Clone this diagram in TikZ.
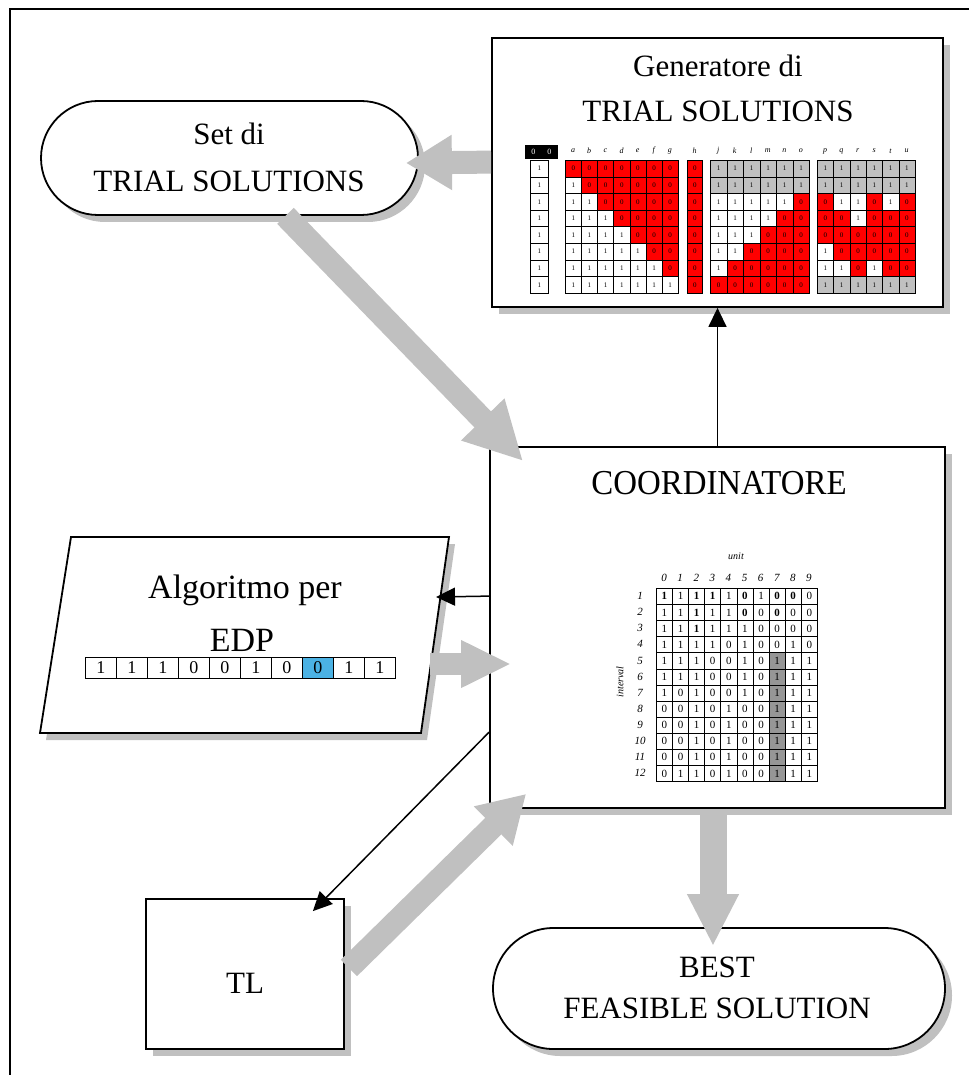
\documentclass[tikz,border=0pt]{standalone}
\usepackage{fontspec}
\setmainfont{Liberation Serif}
\usetikzlibrary{arrows.meta,shapes.misc,shadows,calc}
\definecolor{sgray}{RGB}{192,192,192}
\definecolor{cR}{RGB}{255,0,0}
\definecolor{cW}{RGB}{255,255,255}
\definecolor{cG}{RGB}{192,192,192}
\definecolor{cblue}{RGB}{75,178,228}
\definecolor{dgray}{RGB}{150,150,150}
\newcommand\uval[1]{\if#1b\textbf{1}\else\if#1z\textbf{0}\else#1\fi\fi}
\tikzset{
 box/.style={draw=black, line width=1.8pt, fill=white, inner sep=0pt,
   general shadow={fill=sgray, shadow xshift=7pt, shadow yshift=-7pt}},
 big/.style={font=\fontsize{31}{37}\selectfont, inner sep=0pt, anchor=base},
 fat/.style={draw=sgray, line width=23pt, -{Triangle[length=46pt,width=52pt]}},
 thinarr/.style={draw=black, line width=1.5pt, -{Triangle[length=19pt,width=18pt]}},
 gcell/.style={draw=black, line width=0.5pt, inner sep=0pt, anchor=north west,
   font=\fontsize{7}{7}\selectfont},
 ucell/.style={draw=black, line width=0.6pt, inner sep=0pt, anchor=north west,
   minimum width=16.2pt, minimum height=16.1pt, font=\fontsize{11}{11}\selectfont},
 ecell/.style={draw=black, line width=0.8pt, inner sep=0pt, anchor=north west,
   minimum width=31pt, minimum height=21pt, font=\fontsize{18}{18}\selectfont},
 hdr/.style={font=\fontsize{8}{8}\selectfont\itshape, inner sep=0pt},
 uhdr/.style={font=\fontsize{11}{11}\selectfont\itshape, inner sep=0pt},
}
\begin{document}
\begin{tikzpicture}[x=1pt,y=-1pt]
\useasboundingbox (0,0) rectangle (969,1075);
\fill[white] (0,0) rectangle (969,1075);
\draw[line width=1.5pt] (10,1076) -- (10,9) -- (969,9);

% ---------- boxes ----------
\node[box, minimum width=451pt, minimum height=269pt] (gen) at (717.5,172.5) {};
\node[box, rounded rectangle, minimum width=377pt, minimum height=114pt] (set) at (229.5,158) {};
\node[box, minimum width=455pt, minimum height=361pt] (coord) at (717.5,627.5) {};
\node[box, minimum width=198pt, minimum height=150pt] (tl) at (245,974) {};
\node[box, rounded rectangle, minimum width=452pt, minimum height=121pt] (best) at (719,988.5) {};
% parallelogram
\fill[sgray] (77,544) -- (455,544) -- (427,740) -- (46,740) -- cycle;
\draw[line width=1.8pt, fill=white] (71,537) -- (449,537) -- (421,733) -- (40,733) -- cycle;
\coordinate (algoR) at (436,597);
\coordinate (algoS) at (430,664);

% ---------- texts ----------
\node[big] (gt1) at (718,77) {Generatore di};
\node[big] (gt2) at (718,122) {TRIAL SOLUTIONS};
\node[big] (st1) at (229,145) {Set di};
\node[big] (st2) at (229,192) {TRIAL SOLUTIONS};
\node[inner sep=0pt, anchor=base, font=\fontsize{35}{40}\selectfont] (ct) at (719,494) {\scalebox{0.94}[1]{COORDINATORE}};
\node[inner sep=0pt, anchor=base, font=\fontsize{34}{40}\selectfont] (at1) at (245,598) {Algoritmo per};
\node[inner sep=0pt, anchor=base, font=\fontsize{34}{40}\selectfont] (at2) at (242,651) {EDP};
\node[big] (tlt) at (245,993) {TL};
\node[big] (bt1) at (717,977) {BEST};
\node[big] (bt2) at (717,1018) {FEASIBLE SOLUTION};

% ---------- generator tables ----------
\foreach \i/\x in {0/525,1/541}
  \node[gcell, fill=black, text=white, minimum width=16pt, minimum height=13pt, font=\fontsize{8}{8}\selectfont] (gh\i) at (\x,145) {0};
\foreach \r in {0,...,7}
  \node[gcell, fill=white, minimum width=18pt, minimum height=16.6pt] (gx\r) at (530,{160+16.6*\r}) {1};
% matrix a-g
\foreach \r in {0,...,7}{\foreach \c in {0,...,6}{
  \ifnum\c<\r \def\cf{cW}\def\ct{1}\else\def\cf{cR}\def\ct{0}\fi
  \node[gcell, fill=\cf, minimum width=16.15pt, minimum height=16.6pt] (ga-\r-\c) at ({565+16.15*\c},{160+16.6*\r}) {\ct};
}}
\foreach \l [count=\c from 0] in {a,b,c,d,e,f,g}
  \node[hdr] (la\c) at ({565+16.15*(\c+0.5)},151) {\l};
% column h
\foreach \r in {0,...,7}
  \node[gcell, fill=cR, minimum width=15pt, minimum height=16.6pt] (gh-\r) at (687,{160+16.6*\r}) {0};
\node[hdr] (lh) at (694.5,151) {h};
% matrix j-o
\foreach \r in {0,...,7}{\foreach \c in {0,...,5}{
  \pgfmathtruncatemacro\lim{7-\r}
  \ifnum\r<2 \def\cf{cG}\def\ct{1}\else
    \ifnum\c<\lim \def\cf{cW}\def\ct{1}\else\def\cf{cR}\def\ct{0}\fi\fi
  \node[gcell, fill=\cf, minimum width=16.5pt, minimum height=16.6pt] (gb-\r-\c) at ({710+16.5*\c},{160+16.6*\r}) {\ct};
}}
\foreach \l [count=\c from 0] in {j,k,l,m,n,o}
  \node[hdr] (lb\c) at ({710+16.5*(\c+0.5)},151) {\l};
% matrix p-u
\foreach \row [count=\r from 0] in {
  {cG/1,cG/1,cG/1,cG/1,cG/1,cG/1},
  {cG/1,cG/1,cG/1,cG/1,cG/1,cG/1},
  {cR/0,cW/1,cW/1,cR/0,cW/1,cR/0},
  {cR/0,cR/0,cW/1,cR/0,cR/0,cR/0},
  {cR/0,cR/0,cR/0,cR/0,cR/0,cR/0},
  {cW/1,cR/0,cR/0,cR/0,cR/0,cR/0},
  {cW/1,cW/1,cR/0,cW/1,cR/0,cR/0},
  {cG/1,cG/1,cG/1,cG/1,cG/1,cG/1}}{
  \foreach \cf/\ct [count=\c from 0] in \row
    \node[gcell, fill=\cf, minimum width=16.3pt, minimum height=16.6pt] (gc-\r-\c) at ({817+16.3*\c},{160+16.6*\r}) {\ct};
}
\foreach \l [count=\c from 0] in {p,q,r,s,t,u}
  \node[hdr] (lc\c) at ({817+16.3*(\c+0.5)},151) {\l};

% ---------- unit table ----------
\node[uhdr, font=\fontsize{10}{10}\selectfont\itshape] (unit) at (736,556) {unit};
\node[uhdr, font=\fontsize{10}{10}\selectfont\itshape, rotate=90] (intv) at (620,682) {interval};
\foreach \c in {0,...,9}
  \node[uhdr] (uh\c) at ({656+16.1*(\c+0.5)},578) {\c};
\foreach \row [count=\r] in {
  {b,1,b,b,1,z,1,z,z,0},
  {1,1,b,1,1,z,0,z,0,0},
  {1,1,b,1,1,1,0,0,0,0},
  {1,1,1,1,0,1,0,0,1,0},
  {1,1,1,0,0,1,0,1,1,1},
  {1,1,1,0,0,1,0,1,1,1},
  {1,0,1,0,0,1,0,1,1,1},
  {0,0,1,0,1,0,0,1,1,1},
  {0,0,1,0,1,0,0,1,1,1},
  {0,0,1,0,1,0,0,1,1,1},
  {0,0,1,0,1,0,0,1,1,1},
  {0,1,1,0,1,0,0,1,1,1}}{
  \node[uhdr] (ur\r) at (640,{588+16.1*(\r-0.5)}) {\r};
  \foreach \v [count=\c from 0] in \row {
    \def\cf{white}
    \ifnum\c=7 \ifnum\r>4 \def\cf{dgray}\fi\fi
    \node[ucell, fill=\cf] (u-\r-\c) at ({656+16.1*\c},{588+16.1*(\r-1)}) {\uval{\v}};
  }
}

% ---------- EDP row ----------
\foreach \v [count=\c from 0] in {1,1,1,0,0,1,0,0,1,1}{
  \def\cf{white}\ifnum\c=7 \def\cf{cblue}\fi
  \node[ecell, fill=\cf] (e\c) at ({85+31*\c},657) {\v};
}

% ---------- thin connectors ----------
\draw[thinarr] (coord.north) -- (gen.south);
\draw[thinarr] ($(coord.north west)+(0,150)$) -- (algoR);
\draw[thinarr] ($(coord.north west)+(0,286)$) -- ($(tl.north east)+(-32,13)$);

% ---------- fat connectors ----------
\draw[fat] ($(gen.north west)+(0,125)$) -- ($(set.east)+(-13,5)$);
\draw[fat, -{Triangle[length=58pt,width=56pt]}] ($(set.south)+(56,0)$) -- ($(coord.north west)+(34,15)$);
\draw[fat, line width=22pt, -{Triangle[length=50pt,width=44pt]}] (algoS) -- ($(coord.west)+(22,36.5)$);
\draw[fat] ($(tl.east)+(4,-6)$) -- ($(coord.south west)+(37,-15)$);
\draw[fat, line width=27pt, -{Triangle[length=52pt,width=48pt]}] ($(coord.south)+(-4.5,0)$) -- ($(best.north)+(-6,19)$);
\end{tikzpicture}
\end{document}
